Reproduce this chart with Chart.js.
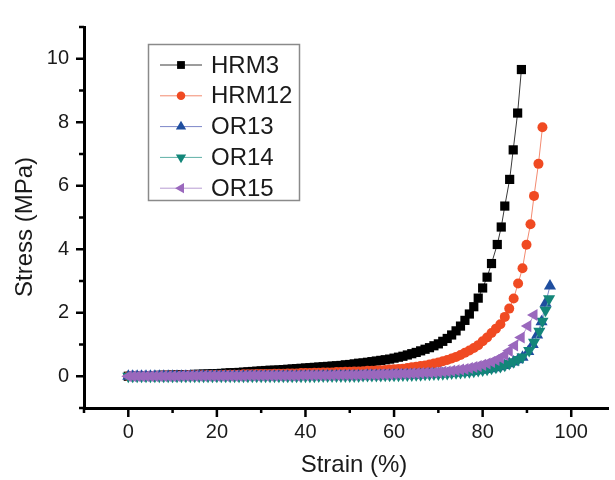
<!DOCTYPE html>
<html>
<head>
<meta charset="utf-8">
<script src="https://cdn.jsdelivr.net/npm/chart.js@4.4.0/dist/chart.umd.min.js"></script>
<style>
  body { margin: 0; background: #fff; }
  #wrap { width: 615px; height: 480px; }
</style>
</head>
<body>
<div id="wrap"><canvas id="chart" width="615" height="480"></canvas></div>
<script>
// Series names
const seriesNames = ["HRM3", "HRM12", "OR13", "OR14", "OR15"];

// HRM3 (strain %, stress MPa)
const hrm3Strain = [0,1,2,3,4,5,6,7,8,9,10,11,12,13,14,15,16,17,18,19,20,
  21,22,23,24,25,26,27,28,29,30,31,32,33,34,35,36,37,38,39,40,
  41,42,43,44,45,46,47,48,49,50,51,52,53,54,55,56,57,58,59,60,
  61,62,63,64,65,66,67,68,69,70,71,72,73,74,75,76,77,78,79,80,
  81,82,83.3,84.2,85.0,86.1,86.9,87.9,88.75];
const hrm3Stress = [0.00,0.00,0.01,0.01,0.02,0.02,0.02,0.03,0.03,0.03,0.04,0.04,0.05,0.05,0.05,0.06,0.06,0.07,0.07,0.08,0.08,
  0.09,0.10,0.11,0.11,0.12,0.13,0.14,0.15,0.16,0.17,0.18,0.19,0.19,0.20,0.21,0.22,0.23,0.24,0.25,0.26,
  0.27,0.28,0.29,0.30,0.31,0.32,0.33,0.34,0.36,0.37,0.39,0.41,0.42,0.44,0.46,0.48,0.50,0.52,0.54,0.57,
  0.60,0.63,0.67,0.71,0.75,0.80,0.85,0.90,0.96,1.02,1.10,1.19,1.30,1.43,1.58,1.76,1.96,2.19,2.46,2.78,
  3.12,3.55,4.15,4.70,5.36,6.20,7.13,8.29,9.66];

// HRM12
const hrm12Strain = [0,1,2,3,4,5,6,7,8,9,10,11,12,13,14,15,16,17,18,19,20,
  21,22,23,24,25,26,27,28,29,30,31,32,33,34,35,36,37,38,39,40,
  41,42,43,44,45,46,47,48,49,50,51,52,53,54,55,56,57,58,59,60,
  61,62,63,64,65,66,67,68,69,70,71,72,73,74,75,76,77,78,79,80,
  81,82,83,84,85,86,87,88,89.0,89.9,90.8,91.6,92.6,93.5];
const hrm12Stress = [0.00,0.00,0.00,0.01,0.01,0.01,0.01,0.01,0.02,0.02,0.02,0.02,0.02,0.03,0.03,0.03,0.03,0.03,0.04,0.04,0.04,
  0.04,0.05,0.05,0.05,0.05,0.06,0.06,0.06,0.07,0.07,0.07,0.07,0.08,0.08,0.08,0.09,0.09,0.09,0.10,0.10,
  0.10,0.11,0.11,0.12,0.12,0.12,0.13,0.13,0.14,0.14,0.15,0.15,0.16,0.17,0.17,0.18,0.19,0.20,0.21,0.22,
  0.23,0.24,0.26,0.28,0.30,0.32,0.34,0.37,0.40,0.43,0.47,0.51,0.56,0.61,0.67,0.74,0.81,0.89,0.98,1.10,
  1.22,1.36,1.50,1.64,1.87,2.13,2.45,2.92,3.40,4.14,4.79,5.68,6.69,7.84];

// OR13
const or13Strain = [0,1,2,3,4,5,6,7,8,9,10,11,12,13,14,15,16,17,18,19,20,
  21,22,23,24,25,26,27,28,29,30,31,32,33,34,35,36,37,38,39,40,
  41,42,43,44,45,46,47,48,49,50,51,52,53,54,55,56,57,58,59,60,
  61,62,63,64,65,66,67,68,69,70,71,72,73,74,75,76,77,78,79,80,
  81,82,83,84,85,86,87,88,89,90.3,91.3,92.3,93.3,94.2,95.2];
const or13Stress = [0.00,0.00,0.00,0.00,0.00,0.00,0.00,0.00,0.00,0.00,0.00,0.00,0.00,0.00,0.00,0.00,0.00,0.00,0.00,0.00,0.00,
  0.00,0.00,0.00,0.00,0.00,0.00,0.00,0.00,0.00,0.00,0.00,0.00,0.00,0.00,0.00,0.00,0.00,0.00,0.00,0.00,
  0.00,0.00,0.00,0.01,0.01,0.01,0.01,0.01,0.01,0.01,0.01,0.01,0.01,0.02,0.02,0.02,0.02,0.02,0.02,0.03,
  0.03,0.03,0.04,0.04,0.04,0.05,0.05,0.06,0.06,0.07,0.08,0.08,0.09,0.10,0.11,0.12,0.13,0.15,0.17,0.19,
  0.21,0.24,0.27,0.30,0.34,0.39,0.45,0.52,0.60,0.78,1.00,1.30,1.72,2.30,2.84];

// OR14
const or14Strain = [0,1,2,3,4,5,6,7,8,9,10,11,12,13,14,15,16,17,18,19,20,
  21,22,23,24,25,26,27,28,29,30,31,32,33,34,35,36,37,38,39,40,
  41,42,43,44,45,46,47,48,49,50,51,52,53,54,55,56,57,58,59,60,
  61,62,63,64,65,66,67,68,69,70,71,72,73,74,75,76,77,78,79,80,
  81,82,83,84,85,86,87,88,89,90.5,91.6,92.8,93.5,94.2,95.0];
const or14Stress = [0.00,0.00,0.00,0.00,0.00,0.00,0.00,0.00,0.00,0.00,0.00,0.00,0.00,0.00,0.00,0.00,0.00,0.00,0.00,0.00,0.00,
  0.00,0.00,0.00,0.00,0.00,0.00,0.00,0.00,0.00,0.00,0.00,0.00,0.00,0.00,0.00,0.00,0.00,0.00,0.00,0.00,
  0.00,0.00,0.01,0.01,0.01,0.01,0.01,0.01,0.01,0.01,0.01,0.01,0.02,0.02,0.02,0.02,0.02,0.03,0.03,0.03,
  0.03,0.04,0.04,0.04,0.05,0.05,0.06,0.06,0.07,0.07,0.08,0.09,0.10,0.11,0.12,0.13,0.14,0.16,0.18,0.20,
  0.22,0.25,0.28,0.31,0.35,0.40,0.46,0.53,0.61,0.81,1.07,1.42,1.73,2.08,2.44];

// OR15
const or15Strain = [0,1,2,3,4,5,6,7,8,9,10,11,12,13,14,15,16,17,18,19,20,
  21,22,23,24,25,26,27,28,29,30,31,32,33,34,35,36,37,38,39,40,
  41,42,43,44,45,46,47,48,49,50,51,52,53,54,55,56,57,58,59,60,
  61,62,63,64,65,66,67,68,69,70,71,72,73,74,75,76,77,78,79,80,
  81,82,83,84,85,86,87.2,88.7,90.2,91.6];
const or15Stress = [0.00,0.00,0.00,0.00,0.00,0.00,0.00,0.00,0.00,0.00,0.00,0.00,0.01,0.01,0.01,0.01,0.01,0.01,0.01,0.01,0.01,
  0.01,0.01,0.01,0.01,0.01,0.01,0.02,0.02,0.02,0.02,0.02,0.02,0.02,0.02,0.02,0.02,0.02,0.02,0.03,0.03,
  0.03,0.03,0.03,0.03,0.03,0.03,0.04,0.04,0.04,0.04,0.04,0.04,0.05,0.05,0.05,0.05,0.06,0.06,0.06,0.07,
  0.07,0.08,0.08,0.09,0.09,0.10,0.11,0.11,0.12,0.13,0.14,0.15,0.17,0.19,0.21,0.23,0.26,0.29,0.32,0.36,
  0.40,0.45,0.51,0.58,0.67,0.80,0.97,1.22,1.58,1.93];

// Axis ticks
const xTicks = [-10,0,10,20,30,40,50,60,70,80,90,100];
const xTickLabels = ["","0","","20","","40","","60","","80","","100"];
const yTicks = [-1,0,1,2,3,4,5,6,7,8,9,10,11];
const yTickLabels = ["","0","","2","","4","","6","","8","","10",""];

const FONT = "'Liberation Sans', Arial, sans-serif";
const TEXT = "#1a1a1a";

function pts(xs, ys) {
  return xs.map((x, i) => ({ x: x, y: ys[i] }));
}

const styles = [
  { marker: "#000000", line: "#3a3a3a", pointStyle: "rect", radius: 6.5, rotation: 0 },
  { marker: "#f04a22", line: "#f38a70", pointStyle: "circle", radius: 5.0, rotation: 0 },
  { marker: "#1f4e9f", line: "#7c86c8", pointStyle: "triangle", radius: 7, rotation: 0 },
  { marker: "#138679", line: "#5fb0a6", pointStyle: "triangle", radius: 7, rotation: 180 },
  { marker: "#9a68bd", line: "#b79bd3", pointStyle: "triangle", radius: 7, rotation: 270 },
];

const seriesData = [
  pts(hrm3Strain, hrm3Stress),
  pts(hrm12Strain, hrm12Stress),
  pts(or13Strain, or13Stress),
  pts(or14Strain, or14Stress),
  pts(or15Strain, or15Stress),
];

const datasets = seriesNames.map((name, i) => ({
  label: name,
  data: seriesData[i],
  showLine: true,
  borderColor: styles[i].line,
  borderWidth: 1,
  pointStyle: styles[i].pointStyle,
  pointRadius: styles[i].radius,
  pointRotation: styles[i].rotation,
  pointBackgroundColor: styles[i].marker,
  pointBorderWidth: 0,
  order: seriesNames.length - 1 - i, // later series on top
}));

// Tick marks: long for labelled ticks, short otherwise
const tickMarks = {
  id: "tickMarks",
  afterDraw(chart) {
    const ctx = chart.ctx;
    const xs = chart.scales.x;
    const ys = chart.scales.y;
    ctx.save();
    ctx.strokeStyle = "#000";
    ctx.lineWidth = 2.5;
    ctx.beginPath();
    xTicks.forEach((v, i) => {
      const px = xs.getPixelForValue(v);
      const len = xTickLabels[i] ? 9 : 5;
      ctx.moveTo(px, xs.top);
      ctx.lineTo(px, xs.top + len);
    });
    yTicks.forEach((v, i) => {
      const py = ys.getPixelForValue(v);
      const len = yTickLabels[i] ? 8 : 5;
      ctx.moveTo(ys.right, py);
      ctx.lineTo(ys.right - len, py);
    });
    ctx.stroke();
    ctx.restore();
  },
};

// Axis titles
const axisTitles = {
  id: "axisTitles",
  afterDraw(chart) {
    const ctx = chart.ctx;
    ctx.save();
    ctx.fillStyle = TEXT;
    ctx.font = "24px " + FONT;
    ctx.textAlign = "center";
    ctx.textBaseline = "middle";
    ctx.fillText("Strain (%)", 354, 465);
    ctx.translate(25, 227);
    ctx.rotate(-Math.PI / 2);
    ctx.fillText("Stress (MPa)", 0, 0);
    ctx.restore();
  },
};

// Boxed legend inside plot
const boxLegend = {
  id: "boxLegend",
  afterDraw(chart) {
    const ctx = chart.ctx;
    ctx.save();
    ctx.strokeStyle = "#8a8a8a";
    ctx.lineWidth = 1.5;
    ctx.fillStyle = "#fff";
    ctx.fillRect(148.5, 44.5, 151, 156);
    ctx.strokeRect(148.5, 44.5, 151, 156);
    ctx.font = "24px " + FONT;
    ctx.textAlign = "left";
    ctx.textBaseline = "middle";
    seriesNames.forEach((name, i) => {
      const y = 65 + i * 30.8;
      const s = styles[i];
      ctx.strokeStyle = s.line;
      ctx.lineWidth = 1;
      ctx.beginPath();
      ctx.moveTo(160, y);
      ctx.lineTo(202, y);
      ctx.stroke();
      ctx.fillStyle = s.marker;
      Chart.helpers.drawPoint(ctx, {
        pointStyle: s.pointStyle,
        rotation: s.rotation,
        radius: s.radius * 0.85,
        borderWidth: 0,
      }, 181, y);
      ctx.fillStyle = TEXT;
      ctx.fillText(name, 211, y + 1);
    });
    ctx.restore();
  },
};

new Chart(document.getElementById("chart"), {
  type: "scatter",
  data: { datasets: datasets },
  plugins: [tickMarks, axisTitles, boxLegend],
  options: {
    responsive: false,
    animation: false,
    layout: { padding: { top: 14, right: 0, left: 0, bottom: 0 } },
    plugins: {
      legend: { display: false },
      tooltip: { enabled: false },
    },
    scales: {
      x: {
        type: "linear",
        min: -10,
        max: 108.3,
        afterBuildTicks: (scale) => {
          scale.ticks = xTicks.map((v) => ({ value: v }));
        },
        afterFit: (scale) => {
          scale.height = 72;
        },
        grid: { display: false, drawTicks: false },
        border: { display: true, color: "#000", width: 3 },
        ticks: {
          autoSkip: false,
          maxRotation: 0,
          padding: 12,
          color: TEXT,
          font: { family: FONT, size: 20 },
          callback: (v, i) => xTickLabels[i],
        },
      },
      y: {
        type: "linear",
        min: -1,
        max: 11,
        afterBuildTicks: (scale) => {
          scale.ticks = yTicks.map((v) => ({ value: v }));
        },
        afterFit: (scale) => {
          scale.width = 84;
        },
        grid: { display: false, drawTicks: false },
        border: { display: true, color: "#000", width: 3 },
        ticks: {
          autoSkip: false,
          padding: 15,
          color: TEXT,
          font: { family: FONT, size: 20 },
          callback: (v, i) => yTickLabels[i],
        },
      },
    },
  },
});
</script>
</body>
</html>
